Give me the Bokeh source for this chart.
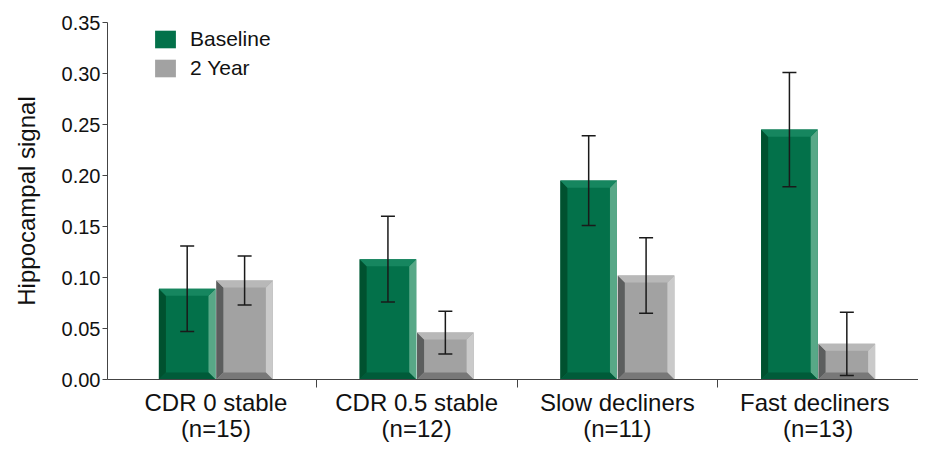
from bokeh.plotting import figure
from bokeh.models import (Range1d, FixedTicker, Whisker, TeeHead, ColumnDataSource,
                          Legend, LegendItem, NumeralTickFormatter, LinearAxis)
from bokeh.embed import file_html
from bokeh.resources import INLINE

# ---- data ----
group_names = ["CDR 0 stable", "CDR 0.5 stable", "Slow decliners", "Fast  decliners"]
group_sizes = ["(n=15)", "(n=12)", "(n=11)", "(n=13)"]
baseline = [0.089, 0.118, 0.195, 0.245]
baseline_err = [0.042, 0.042, 0.044, 0.056]
year2 = [0.097, 0.046, 0.102, 0.035]
year2_err = [0.024, 0.021, 0.037, 0.031]
series_names = ["Baseline", "2 Year"]
y_ticks = [0.0, 0.05, 0.10, 0.15, 0.20, 0.25, 0.30, 0.35]

# ---- styling ----
FONT = "Liberation Sans"
GREEN = dict(front="#03714a", top="#16865f", left="#00512f", right="#58a887", bottom="#005b39")
GRAY = dict(front="#a2a2a2", top="#b8b8b8", left="#5c5e5e", right="#cacaca", bottom="#787878")
BAR_W = 0.282
OFFSET = 0.143
BX = 0.035   # bevel size in x units
BY = 0.0069  # bevel size in y units

p = figure(width=918, height=444, output_backend="svg", toolbar_location=None,
           x_range=Range1d(-0.04, 4.0), y_range=Range1d(0, 0.35),
           min_border_left=107, min_border_right=0, min_border_top=22, min_border_bottom=10)
p.outline_line_color = None
p.grid.visible = False
p.background_fill_color = "white"


def bevel_bar(xc, vals, col):
    xs_l = [x - BAR_W / 2 for x in xc]
    xs_r = [x + BAR_W / 2 for x in xc]
    r = p.vbar(x=xc, top=vals, bottom=0, width=BAR_W, fill_color=col["front"], line_color=None)
    for side in ["left", "right", "top", "bottom"]:
        pxs, pys = [], []
        for L, R, T in zip(xs_l, xs_r, vals):
            if side == "left":
                pxs.append([L, L, L + BX, L + BX]); pys.append([0, T, T - BY, BY])
            elif side == "right":
                pxs.append([R, R, R - BX, R - BX]); pys.append([0, T, T - BY, BY])
            elif side == "top":
                pxs.append([L, R, R - BX, L + BX]); pys.append([T, T, T - BY, T - BY])
            else:
                pxs.append([L, R, R - BX, L + BX]); pys.append([0, 0, BY, BY])
        p.patches(xs=pxs, ys=pys, fill_color=col[side], line_color=None)
    return r


centers = [i + 0.5 for i in range(len(group_names))]
xb = [c - OFFSET for c in centers]
xy = [c + OFFSET for c in centers]
r1 = bevel_bar(xb, baseline, GREEN)
r2 = bevel_bar(xy, year2, GRAY)

for xs, vals, errs in [(xb, baseline, baseline_err), (xy, year2, year2_err)]:
    src = ColumnDataSource(dict(x=xs, up=[v + e for v, e in zip(vals, errs)],
                                lo=[v - e for v, e in zip(vals, errs)]))
    w = Whisker(base="x", upper="up", lower="lo", source=src, line_color="#1a1a1a", line_width=1.5,
                upper_head=TeeHead(size=14, line_color="#1a1a1a", line_width=1.5),
                lower_head=TeeHead(size=14, line_color="#1a1a1a", line_width=1.5))
    w.level = "annotation"
    p.add_layout(w)

# axes
xa = p.xaxis[0]
xa.ticker = FixedTicker(ticks=centers, minor_ticks=[1, 2, 3, 4])
xa.major_label_overrides = {c: lab for c, lab in zip(centers, group_names)}
xa.major_tick_out = 0
xa.major_tick_in = 0
xa.minor_tick_out = 8
xa.minor_tick_in = 0
xa.major_label_standoff = 1
xa.major_label_text_font = FONT
xa.major_label_text_font_size = "24px"
xa.major_label_text_color = "#111111"
xa.axis_line_color = "#444444"
xa.minor_tick_line_color = "#444444"

xa2 = LinearAxis(ticker=FixedTicker(ticks=centers, minor_ticks=[]),
                 major_label_overrides={c: lab for c, lab in zip(centers, group_sizes)},
                 axis_line_color=None, major_tick_line_color=None, minor_tick_line_color=None,
                 major_tick_out=0, major_tick_in=0, major_label_standoff=-4,
                 major_label_text_font=FONT, major_label_text_font_size="24px",
                 major_label_text_color="#111111")
p.add_layout(xa2, "below")

ya = p.yaxis[0]
ya.ticker = FixedTicker(ticks=y_ticks, minor_ticks=[])
ya.formatter = NumeralTickFormatter(format="0.00")
ya.major_tick_out = 5
ya.major_tick_in = 0
ya.major_label_standoff = 2
ya.major_label_text_font = FONT
ya.major_label_text_font_size = "20px"
ya.major_label_text_color = "#111111"
ya.axis_line_color = "#444444"
ya.major_tick_line_color = "#444444"
ya.axis_label = "Hippocampal signal"
ya.axis_label_text_font = FONT
ya.axis_label_text_font_size = "24px"
ya.axis_label_text_font_style = "normal"
ya.axis_label_text_color = "#111111"
ya.axis_label_standoff = 19

legend = Legend(items=[LegendItem(label=series_names[0], renderers=[r1]),
                       LegendItem(label=series_names[1], renderers=[r2])],
                location=(45, 299), orientation="vertical",
                glyph_width=26, glyph_height=22, spacing=5, padding=0, margin=0,
                label_text_font=FONT, label_text_font_size="21px", label_text_color="#111111",
                label_standoff=12, border_line_color=None, background_fill_alpha=0)
p.add_layout(legend)

open("out.html", "w").write(file_html(p, INLINE))
